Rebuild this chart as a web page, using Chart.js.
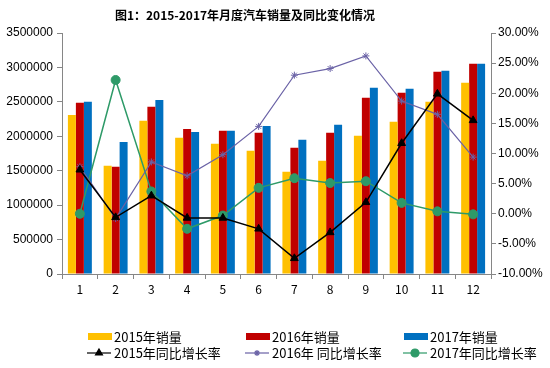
<!DOCTYPE html>
<html>
<head>
<meta charset="utf-8">
<script src="https://cdn.jsdelivr.net/npm/chart.js@4/dist/chart.umd.min.js"></script>
<style>
html,body{margin:0;padding:0;background:#fff;}
#wrap{width:550px;height:368px;}
</style>
</head>
<body>
<div id="wrap"><canvas id="autoChart" width="550" height="368"></canvas></div>
<script>
const months = ["1","2","3","4","5","6","7","8","9","10","11","12"]

const sales2015 = [2309000,1573000,2226000,1980000,1892000,1791000,1486000,1646000,2009000,2212000,2502000,2778000]
const sales2016 = [2488000,1558000,2430000,2106000,2081000,2052000,1834000,2052000,2560000,2633000,2938000,3054000]
const sales2017 = [2502000,1917000,2527000,2062000,2081000,2149000,1950000,2168000,2706000,2691000,2952000,3054000]

const growth2015 = [7.3,-0.6,3.0,-0.7,-0.7,-2.5,-7.4,-3.1,1.9,11.7,19.9,15.5]
const growth2016 = [7.8,-0.8,8.6,6.3,9.8,14.5,23.0,24.1,26.2,18.7,16.5,9.4]
const growth2017 = [0.0,22.2,3.7,-2.5,-0.3,4.3,5.9,5.1,5.4,1.8,0.4,-0.1]

const legendNames = ["2015年销量","2016年销量","2017年销量","2015年同比增长率","2016年 同比增长率","2017年同比增长率"]

const yellow = "#FFC000"
const red = "#C00000"
const blue = "#0070C0"
const black = "#000000"
const purple = "#6A62A6"
const green = "#2E9A68"
const axisGray = "#868686"
const font = "'Noto Sans CJK SC', 'Liberation Sans', sans-serif"

/* title + legend drawn by hand */
const extras = {
  id:"extras",
  afterDraw(chart){
    const ctx = chart.ctx
    ctx.save()
    ctx.fillStyle = "#000"
    ctx.font = "bold 12px " + font
    ctx.textAlign = "center"
    ctx.textBaseline = "middle"
    ctx.fillText("图1：2015-2017年月度汽车销量及同比变化情况", 245, 15)

    const cols = [88, 246, 404]
    ctx.font = "13px " + font
    ctx.textAlign = "left"
    const boxColors = [yellow, red, blue]
    const lineColors = [black, purple, green]
    const styles = ["triangle","star","circle"]
    for(let i=0;i<3;i++){
      ctx.fillStyle = boxColors[i]
      ctx.fillRect(cols[i], 333, 24, 7)
      ctx.fillStyle = "#000"
      ctx.fillText(legendNames[i], cols[i]+26, 337)

      ctx.strokeStyle = lineColors[i]
      ctx.lineWidth = 1.2
      ctx.beginPath()
      ctx.moveTo(cols[i]-1, 353)
      ctx.lineTo(cols[i]+23, 353)
      ctx.stroke()
      ctx.fillStyle = lineColors[i]
      Chart.helpers.drawPoint(ctx, {pointStyle:styles[i], radius:i==1?3:4, borderWidth:1}, cols[i]+11, 353)
      ctx.fillStyle = "#000"
      ctx.fillText(legendNames[i+3], cols[i]+26, 353)
    }
    ctx.restore()
  }
}

function lineSet(label, data, color, style, radius, width){
  return {
    type:"line",
    label:label,
    data:data,
    yAxisID:"y1",
    borderColor:color,
    backgroundColor:color,
    borderWidth:width,
    pointStyle:style,
    pointRadius:radius,
    pointBorderWidth:1,
    pointBorderColor:color,
    pointBackgroundColor:color,
    tension:0,
    order:0
  }
}

function barSet(label, data, color){
  return {
    type:"bar",
    label:label,
    data:data,
    yAxisID:"y",
    backgroundColor:color,
    barPercentage:1,
    categoryPercentage:0.67,
    order:1
  }
}

new Chart(document.getElementById("autoChart"),{
  data:{
    labels:months,
    datasets:[
      lineSet(legendNames[3], growth2015, black, "triangle", 4.5, 1.5),
      lineSet(legendNames[4], growth2016, purple, "star", 3.5, 1.2),
      lineSet(legendNames[5], growth2017, green, "circle", 4.5, 1.5),
      barSet(legendNames[0], sales2015, yellow),
      barSet(legendNames[1], sales2016, red),
      barSet(legendNames[2], sales2017, blue)
    ]
  },
  options:{
    responsive:false,
    animation:false,
    layout:{padding:{top:33,bottom:68,left:0,right:0}},
    plugins:{
      legend:{display:false},
      title:{display:false},
      tooltip:{enabled:false}
    },
    scales:{
      x:{
        offset:true,
        grid:{offset:true,drawOnChartArea:false,drawTicks:true,tickLength:5,color:axisGray},
        border:{color:axisGray,width:1},
        ticks:{color:"#000",font:{family:font,size:12},padding:3,maxRotation:0},
        afterFit(s){ s.height = 26 }
      },
      y:{
        position:"left",
        min:0,
        max:3500000,
        grid:{drawOnChartArea:false,tickLength:5,color:axisGray},
        border:{color:axisGray,width:1},
        ticks:{stepSize:500000,color:"#000",font:{family:"'Liberation Sans', sans-serif",size:12},padding:4,
          callback:v=>String(v)},
        afterFit(s){ s.width = 62 }
      },
      y1:{
        position:"right",
        min:-10,
        max:30,
        grid:{drawOnChartArea:false,tickLength:5,color:axisGray},
        border:{color:axisGray,width:1},
        ticks:{stepSize:5,color:"#000",font:{family:"'Liberation Sans', sans-serif",size:12},padding:2,
          callback:v=>v.toFixed(2)+"%"},
        afterFit(s){ s.width = 59 }
      }
    }
  },
  plugins:[extras]
})
</script>
</body>
</html>
